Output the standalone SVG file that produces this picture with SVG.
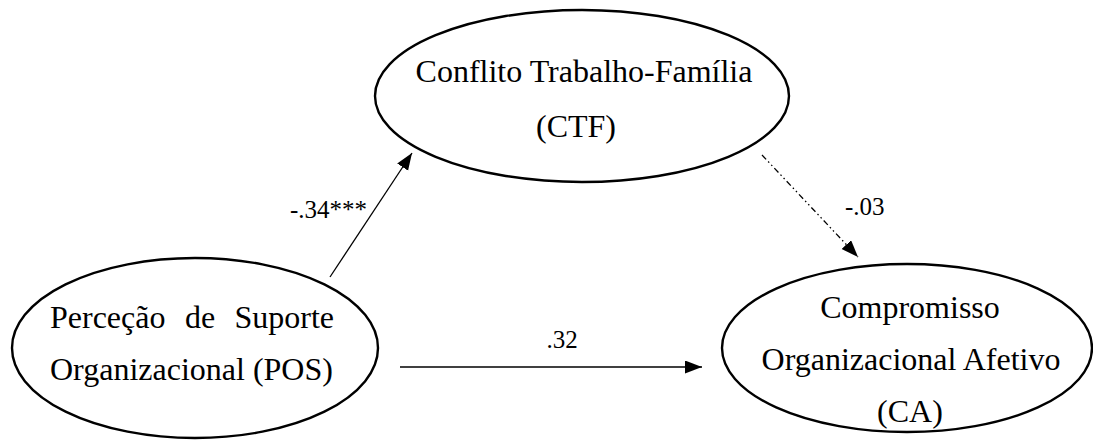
<svg xmlns="http://www.w3.org/2000/svg" width="1093" height="441" viewBox="0 0 1093 441">
<style>
.node{fill:#fff;stroke:#000;stroke-width:2.4}
.t{font-family:"Liberation Serif","Times New Roman",serif;font-size:32px;fill:#000}
.lbl{font-family:"Liberation Serif","Times New Roman",serif;font-size:25px;fill:#000}
.edge{stroke:#000;stroke-width:1.3;fill:none}
</style>
<defs>
<marker id="ah" markerUnits="userSpaceOnUse" markerWidth="18" markerHeight="14" refX="17" refY="6.5" orient="auto">
<path d="M0,0 L17,6.5 L0,13 z" fill="#000"/>
</marker>
</defs>
<rect width="1093" height="441" fill="#fff"/>
<g id="ctf">
<ellipse class="node" cx="582" cy="96" rx="207" ry="86"/>
<text class="t" x="584" y="82" text-anchor="middle">Conflito Trabalho-Família</text>
<text class="t" x="576" y="137" text-anchor="middle">(CTF)</text>
</g>
<g id="pos">
<ellipse class="node" cx="195" cy="348" rx="183" ry="90"/>
<text class="t" x="50" y="328">Perceção</text>
<text class="t" x="200" y="328" text-anchor="middle">de</text>
<text class="t" x="334" y="328" text-anchor="end">Suporte</text>
<text class="t" x="50" y="380">Organizacional (POS)</text>
</g>
<g id="ca">
<ellipse class="node" cx="907" cy="348" rx="185" ry="84"/>
<text class="t" x="910" y="318" text-anchor="middle">Compromisso</text>
<text class="t" x="911" y="370" text-anchor="middle">Organizacional Afetivo</text>
<text class="t" x="910" y="422" text-anchor="middle">(CA)</text>
</g>
<g id="connectors">
<line class="edge" x1="330" y1="277" x2="412" y2="153" marker-end="url(#ah)"/>
<line class="edge" x1="400" y1="367" x2="702" y2="367" marker-end="url(#ah)"/>
<line class="edge" x1="762" y1="155" x2="858" y2="257" stroke-dasharray="6 3 1.5 3 1.5 3" marker-end="url(#ah)"/>
<text class="lbl" x="290" y="218">-.34***</text>
<text class="lbl" x="562" y="348" text-anchor="middle">.32</text>
<text class="lbl" x="845" y="215">-.03</text>
</g>
</svg>
